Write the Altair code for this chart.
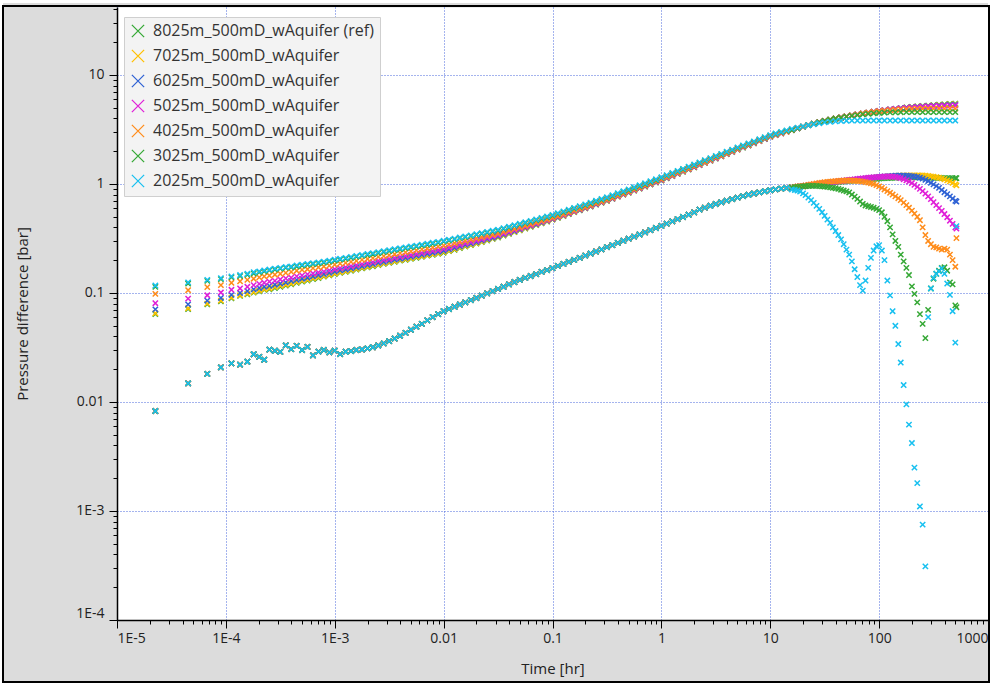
import altair as alt
import pandas as pd

FONT = "Open Sans"
XPATH = "M-1,-1L1,1M-1,1L1,-1"

SERIES = ["8025m_500mD_wAquifer (ref)", "7025m_500mD_wAquifer", "6025m_500mD_wAquifer",
          "5025m_500mD_wAquifer", "4025m_500mD_wAquifer", "3025m_500mD_wAquifer",
          "2025m_500mD_wAquifer"]
COLORS = ["#35a835", "#ffc000", "#2f62d4", "#e020d8", "#ff8c1a", "#35a835", "#18c0f0"]

# ---- time samples [hr] ----
T_EARLY = [2.25e-5, 4.5e-5, 6.75e-5, 9.0e-5, 1.125e-4, 1.35e-4, 1.575e-4, 1.8e-4, 2.025e-4, 2.25e-4]
M20 = [1.00, 1.12, 1.26, 1.41, 1.58, 1.78, 2.00, 2.24, 2.51, 2.82,
       3.16, 3.55, 3.98, 4.47, 5.01, 5.62, 6.31, 7.08, 7.94, 8.91]
T_GRID = ([m * 1e-4 for m in M20[8:]] + [m * 1e-3 for m in M20] + [m * 1e-2 for m in M20]
          + [m * 1e-1 for m in M20] + [m * 1.0 for m in M20] + [m * 10.0 for m in M20]
          + [m * 100.0 for m in M20[:15]])
T_TAIL = [15.8, 16.8, 17.8, 18.8, 20.0, 21.1, 22.4, 23.7, 25.1, 26.6,
          28.2, 29.9, 31.6, 33.5, 35.5, 37.6, 39.8, 42.2, 44.7, 47.3,
          50.1, 53.1, 56.2, 59.6, 63.1, 66.8, 70.8, 75.0, 79.4, 84.1,
          89.1, 94.4, 100, 106, 112, 119, 126, 133, 141, 150,
          158, 168, 178, 188, 200, 211, 224, 237, 251, 266,
          282, 299, 316, 335, 355, 376, 398, 422, 447, 473,
          501, 513]

# ---- pressure difference [bar], early samples ----
P_EARLY = {
    "8025m_500mD_wAquifer (ref)": [0.0640, 0.0712, 0.0785, 0.0838, 0.0893, 0.094, 0.0973, 0.1006, 0.1036, 0.1066],
    "7025m_500mD_wAquifer": [0.0651, 0.0724, 0.0798, 0.0850, 0.0906, 0.0953, 0.0986, 0.102, 0.105, 0.108],
    "6025m_500mD_wAquifer": [0.0708, 0.0787, 0.0850, 0.090, 0.096, 0.100, 0.104, 0.108, 0.111, 0.114],
    "5025m_500mD_wAquifer": [0.0805, 0.0887, 0.0953, 0.101, 0.107, 0.110, 0.114, 0.118, 0.121, 0.124],
    "4025m_500mD_wAquifer": [0.098, 0.106, 0.113, 0.118, 0.124, 0.128, 0.132, 0.135, 0.139, 0.142],
    "3025m_500mD_wAquifer": [0.114, 0.122, 0.129, 0.134, 0.139, 0.143, 0.147, 0.151, 0.155, 0.158],
    "2025m_500mD_wAquifer": [0.117, 0.125, 0.132, 0.137, 0.142, 0.146, 0.150, 0.155, 0.158, 0.161],
}

# ---- pressure difference [bar] on T_GRID ----
P_REF = [0.108, 0.111, 0.114, 0.117, 0.120, 0.124, 0.127, 0.130, 0.134, 0.137, 0.141, 0.145,
         0.149, 0.153, 0.156, 0.160, 0.164, 0.168, 0.172, 0.176, 0.180, 0.185, 0.189, 0.193, 0.198, 0.201, 0.206, 0.210, 0.215, 0.220, 0.224, 0.229,
         0.234, 0.242, 0.249, 0.258, 0.267, 0.275, 0.284, 0.293, 0.303, 0.313, 0.323, 0.336, 0.348, 0.362, 0.375, 0.390, 0.405, 0.420, 0.436, 0.452,
         0.470, 0.489, 0.508, 0.530, 0.551, 0.573, 0.597, 0.620, 0.647, 0.673, 0.700, 0.730, 0.764, 0.797, 0.831, 0.869, 0.907, 0.946, 0.989, 1.032,
         1.076, 1.128, 1.180, 1.237, 1.294, 1.357, 1.419, 1.488, 1.560, 1.632, 1.710, 1.790, 1.878, 1.965, 2.062, 2.158, 2.253, 2.359, 2.469, 2.583,
         2.704, 2.805, 2.911, 3.013, 3.126, 3.243, 3.357, 3.467, 3.573, 3.681, 3.784, 3.882, 3.981, 4.074, 4.169, 4.256, 4.345, 4.426, 4.508, 4.592,
         4.667, 4.742, 4.819, 4.887, 4.955, 5.023, 5.082, 5.140, 5.188, 5.236, 5.284, 5.333, 5.370, 5.420, 5.458]
P_7025 = [0.110, 0.113, 0.116, 0.119, 0.122, 0.126, 0.129, 0.132, 0.136, 0.139, 0.143, 0.147,
          0.151, 0.155, 0.158, 0.162, 0.166, 0.170, 0.174, 0.178, 0.182, 0.187, 0.191, 0.195, 0.200, 0.204, 0.208, 0.213, 0.217, 0.222, 0.227, 0.231,
          0.237, 0.244, 0.252, 0.261, 0.269, 0.277, 0.286, 0.295, 0.305, 0.315, 0.325, 0.338, 0.350, 0.364, 0.377, 0.392, 0.407, 0.422, 0.438, 0.454,
          0.472, 0.491, 0.511, 0.532, 0.553, 0.575, 0.598, 0.622, 0.649, 0.675, 0.701, 0.732, 0.765, 0.798, 0.833, 0.871, 0.909, 0.948, 0.991, 1.034,
          1.079, 1.131, 1.183, 1.240, 1.297, 1.360, 1.422, 1.491, 1.563, 1.635, 1.714, 1.794, 1.882, 1.970, 2.067, 2.163, 2.259, 2.364, 2.474, 2.589,
          2.710, 2.812, 2.911, 3.013, 3.126, 3.243, 3.357, 3.467, 3.573, 3.681, 3.784, 3.882, 3.981, 4.074, 4.169, 4.256, 4.345, 4.426, 4.508, 4.592,
          4.667, 4.742, 4.819, 4.887, 4.955, 5.023, 5.082, 5.129, 5.176, 5.218, 5.260, 5.297, 5.333, 5.364, 5.395]
P_6025 = [0.116, 0.119, 0.122, 0.125, 0.129, 0.132, 0.135, 0.138, 0.142, 0.146, 0.149, 0.153,
          0.157, 0.161, 0.164, 0.168, 0.172, 0.176, 0.180, 0.184, 0.189, 0.193, 0.197, 0.202, 0.206, 0.210, 0.215, 0.220, 0.224, 0.229, 0.234, 0.239,
          0.244, 0.252, 0.259, 0.268, 0.276, 0.284, 0.293, 0.302, 0.312, 0.321, 0.331, 0.344, 0.356, 0.370, 0.383, 0.397, 0.412, 0.427, 0.443, 0.459,
          0.476, 0.495, 0.515, 0.536, 0.557, 0.579, 0.602, 0.626, 0.652, 0.678, 0.705, 0.735, 0.769, 0.802, 0.837, 0.875, 0.913, 0.952, 0.996, 1.039,
          1.084, 1.137, 1.189, 1.246, 1.303, 1.366, 1.429, 1.498, 1.570, 1.643, 1.722, 1.802, 1.890, 1.978, 2.074, 2.170, 2.266, 2.371, 2.481, 2.596,
          2.716, 2.818, 2.917, 3.020, 3.126, 3.243, 3.357, 3.467, 3.573, 3.681, 3.784, 3.882, 3.981, 4.074, 4.169, 4.256, 4.345, 4.426, 4.508, 4.592,
          4.667, 4.742, 4.819, 4.887, 4.955, 5.012, 5.058, 5.105, 5.152, 5.188, 5.224, 5.254, 5.284, 5.309, 5.333]
P_5025 = [0.127, 0.129, 0.133, 0.136, 0.138, 0.142, 0.145, 0.148, 0.151, 0.154, 0.157, 0.161,
          0.165, 0.169, 0.172, 0.176, 0.180, 0.184, 0.188, 0.192, 0.197, 0.201, 0.205, 0.210, 0.214, 0.219, 0.223, 0.228, 0.233, 0.238, 0.243, 0.248,
          0.254, 0.261, 0.269, 0.277, 0.285, 0.293, 0.302, 0.310, 0.320, 0.329, 0.339, 0.351, 0.363, 0.377, 0.389, 0.404, 0.418, 0.433, 0.449, 0.464,
          0.481, 0.500, 0.519, 0.541, 0.562, 0.584, 0.607, 0.631, 0.657, 0.683, 0.710, 0.740, 0.774, 0.808, 0.843, 0.881, 0.919, 0.959, 1.003, 1.046,
          1.091, 1.144, 1.196, 1.254, 1.311, 1.374, 1.437, 1.506, 1.578, 1.651, 1.730, 1.810, 1.898, 1.985, 2.082, 2.178, 2.273, 2.378, 2.488, 2.602,
          2.723, 2.825, 2.917, 3.020, 3.126, 3.243, 3.357, 3.467, 3.573, 3.681, 3.784, 3.882, 3.981, 4.074, 4.169, 4.256, 4.345, 4.426, 4.508, 4.592,
          4.667, 4.742, 4.819, 4.875, 4.932, 4.977, 5.023, 5.070, 5.105, 5.134, 5.164, 5.188, 5.212, 5.230, 5.248]
P_4025 = [0.1445, 0.147, 0.150, 0.153, 0.156, 0.160, 0.163, 0.165, 0.169, 0.172, 0.175, 0.178,
          0.182, 0.186, 0.189, 0.193, 0.197, 0.201, 0.205, 0.209, 0.214, 0.218, 0.222, 0.227, 0.232, 0.236, 0.241, 0.246, 0.251, 0.256, 0.261, 0.266,
          0.272, 0.279, 0.286, 0.294, 0.301, 0.309, 0.317, 0.325, 0.334, 0.342, 0.351, 0.363, 0.375, 0.387, 0.400, 0.414, 0.428, 0.442, 0.457, 0.471,
          0.488, 0.506, 0.526, 0.548, 0.569, 0.591, 0.614, 0.638, 0.664, 0.689, 0.716, 0.747, 0.781, 0.815, 0.850, 0.889, 0.928, 0.968, 1.012, 1.056,
          1.102, 1.154, 1.207, 1.264, 1.322, 1.385, 1.448, 1.518, 1.590, 1.663, 1.742, 1.822, 1.910, 1.998, 2.094, 2.190, 2.286, 2.391, 2.500, 2.615,
          2.735, 2.831, 2.924, 3.020, 3.126, 3.243, 3.357, 3.467, 3.573, 3.681, 3.784, 3.882, 3.981, 4.074, 4.169, 4.256, 4.345, 4.426, 4.508, 4.581,
          4.645, 4.699, 4.753, 4.797, 4.831, 4.853, 4.875, 4.887, 4.898, 4.909, 4.909, 4.909, 4.909, 4.909, 4.909]
P_3025 = [0.161, 0.164, 0.167, 0.170, 0.172, 0.175, 0.178, 0.181, 0.184, 0.187, 0.190, 0.194,
          0.198, 0.202, 0.206, 0.210, 0.215, 0.219, 0.223, 0.227, 0.232, 0.237, 0.242, 0.247, 0.252, 0.257, 0.262, 0.267, 0.272, 0.277, 0.283, 0.288,
          0.296, 0.303, 0.310, 0.318, 0.325, 0.333, 0.341, 0.349, 0.358, 0.366, 0.374, 0.387, 0.399, 0.412, 0.425, 0.438, 0.452, 0.466, 0.482, 0.496,
          0.512, 0.532, 0.552, 0.573, 0.595, 0.618, 0.640, 0.665, 0.690, 0.717, 0.744, 0.775, 0.810, 0.844, 0.880, 0.919, 0.958, 0.999, 1.043, 1.087,
          1.139, 1.193, 1.246, 1.305, 1.363, 1.428, 1.492, 1.562, 1.635, 1.709, 1.789, 1.869, 1.957, 2.044, 2.141, 2.236, 2.331, 2.435, 2.544, 2.658,
          2.777, 2.875, 2.969, 3.066, 3.126, 3.243, 3.357, 3.467, 3.573, 3.681, 3.784, 3.882, 3.981, 4.064, 4.140, 4.217, 4.285, 4.345, 4.395, 4.436,
          4.477, 4.508, 4.529, 4.539, 4.550, 4.560, 4.560, 4.560, 4.560, 4.560, 4.560, 4.560, 4.560, 4.560, 4.560]
P_2025 = [0.164, 0.167, 0.170, 0.173, 0.175, 0.179, 0.182, 0.185, 0.188, 0.191, 0.194, 0.198,
          0.202, 0.206, 0.210, 0.214, 0.219, 0.223, 0.228, 0.232, 0.237, 0.242, 0.247, 0.252, 0.257, 0.262, 0.267, 0.272, 0.278, 0.283, 0.289, 0.294,
          0.301, 0.308, 0.315, 0.323, 0.330, 0.338, 0.346, 0.354, 0.363, 0.372, 0.380, 0.393, 0.405, 0.418, 0.431, 0.445, 0.459, 0.473, 0.489, 0.504,
          0.520, 0.540, 0.560, 0.582, 0.604, 0.627, 0.650, 0.675, 0.701, 0.728, 0.755, 0.787, 0.822, 0.857, 0.893, 0.933, 0.973, 1.014, 1.059, 1.104,
          1.151, 1.205, 1.259, 1.318, 1.377, 1.442, 1.507, 1.578, 1.652, 1.726, 1.807, 1.888, 1.977, 2.065, 2.163, 2.259, 2.355, 2.460, 2.570, 2.685,
          2.805, 2.904, 2.999, 3.097, 3.199, 3.289, 3.373, 3.459, 3.532, 3.606, 3.673, 3.715, 3.758, 3.784, 3.802, 3.811, 3.819, 3.819, 3.819, 3.819,
          3.819, 3.819, 3.819, 3.819, 3.819, 3.819, 3.819, 3.819, 3.819, 3.819, 3.819, 3.819, 3.819, 3.819, 3.819]
P_GRID = dict(zip(SERIES, [P_REF, P_7025, P_6025, P_5025, P_4025, P_3025, P_2025]))

# ---- pressure derivative [bar], common to all cases up to ~14 hr (T_EARLY + first 96 of T_GRID) ----
D_SHARED = [0.00826, 0.0148, 0.0181, 0.0208, 0.0226, 0.0220, 0.0234, 0.0274, 0.0259, 0.0244,
            0.0302, 0.0295, 0.0288, 0.0331, 0.0305, 0.0327, 0.0300, 0.0320, 0.0268, 0.0290, 0.0300, 0.0285,
            0.0296, 0.0275, 0.0289, 0.0293, 0.0300, 0.0303, 0.0310, 0.0318, 0.0330, 0.0345,
            0.0362, 0.0382, 0.0405, 0.0430, 0.0460, 0.0490, 0.0520, 0.0560, 0.0600, 0.0640,
            0.0680, 0.0713, 0.0747, 0.0783, 0.0820, 0.0860, 0.0900, 0.0945, 0.0990, 0.104,
            0.109, 0.114, 0.120, 0.126, 0.132, 0.1375, 0.143, 0.149, 0.156, 0.162,
            0.169, 0.177, 0.185, 0.193, 0.201, 0.210, 0.220, 0.230, 0.240, 0.251,
            0.263, 0.275, 0.288, 0.301, 0.315, 0.329, 0.344, 0.360, 0.377, 0.394,
            0.412, 0.432, 0.453, 0.475, 0.498, 0.522, 0.548, 0.582, 0.607, 0.631,
            0.655, 0.679, 0.703, 0.726, 0.750, 0.773, 0.796, 0.817, 0.838, 0.857,
            0.875, 0.891, 0.906, 0.918]

# ---- pressure derivative [bar] on T_TAIL, per case ----
D_TAIL = {
    "8025m_500mD_wAquifer (ref)": [
        0.93, 0.935, 0.94, 0.945, 0.95, 0.96, 0.965, 0.97, 0.98, 0.985,
        0.99, 1.0, 1.005, 1.01, 1.02, 1.025, 1.03, 1.04, 1.045, 1.05,
        1.06, 1.065, 1.07, 1.075, 1.08, 1.085, 1.09, 1.095, 1.10, 1.105,
        1.11, 1.115, 1.12, 1.125, 1.13, 1.13, 1.135, 1.14, 1.14, 1.145,
        1.145, 1.15, 1.15, 1.15, 1.15, 1.15, 1.15, 1.15, 1.15, 1.145,
        1.145, 1.14, 1.14, 1.14, 1.135, 1.135, 1.13, 1.13, 1.13, 1.13,
        1.13, 1.13],
    "7025m_500mD_wAquifer": [
        0.93, 0.935, 0.94, 0.945, 0.95, 0.96, 0.965, 0.975, 0.98, 0.99,
        0.995, 1.005, 1.01, 1.02, 1.025, 1.035, 1.04, 1.05, 1.055, 1.065,
        1.07, 1.08, 1.085, 1.09, 1.10, 1.105, 1.115, 1.12, 1.125, 1.135,
        1.14, 1.145, 1.155, 1.16, 1.165, 1.17, 1.175, 1.18, 1.185, 1.19,
        1.19, 1.195, 1.195, 1.20, 1.20, 1.20, 1.20, 1.20, 1.195, 1.19,
        1.185, 1.175, 1.165, 1.155, 1.14, 1.125, 1.105, 1.08, 1.055, 1.025,
        0.99, 0.97],
    "6025m_500mD_wAquifer": [
        0.93, 0.935, 0.94, 0.95, 0.955, 0.96, 0.97, 0.975, 0.985, 0.99,
        1.00, 1.005, 1.015, 1.02, 1.03, 1.035, 1.045, 1.05, 1.06, 1.065,
        1.075, 1.08, 1.09, 1.095, 1.10, 1.11, 1.115, 1.125, 1.13, 1.135,
        1.145, 1.15, 1.16, 1.165, 1.17, 1.175, 1.18, 1.185, 1.19, 1.19,
        1.19, 1.19, 1.19, 1.185, 1.18, 1.17, 1.16, 1.14, 1.12, 1.09,
        1.06, 1.025, 0.99, 0.955, 0.92, 0.88, 0.84, 0.805, 0.77, 0.735,
        0.70, 0.69],
    "5025m_500mD_wAquifer": [
        0.93, 0.935, 0.945, 0.95, 0.955, 0.965, 0.97, 0.98, 0.99, 0.995,
        1.005, 1.01, 1.02, 1.03, 1.035, 1.045, 1.05, 1.06, 1.065, 1.075,
        1.08, 1.09, 1.095, 1.10, 1.11, 1.12, 1.125, 1.13, 1.14, 1.145,
        1.15, 1.155, 1.16, 1.165, 1.17, 1.17, 1.17, 1.165, 1.16, 1.145,
        1.13, 1.105, 1.08, 1.05, 1.02, 0.98, 0.94, 0.90, 0.86, 0.815,
        0.77, 0.725, 0.68, 0.64, 0.60, 0.565, 0.53, 0.495, 0.46, 0.43,
        0.40, 0.39],
    "4025m_500mD_wAquifer": [
        0.93, 0.94, 0.95, 0.955, 0.96, 0.97, 0.98, 0.99, 1.00, 1.01,
        1.02, 1.03, 1.04, 1.045, 1.05, 1.055, 1.06, 1.065, 1.07, 1.07,
        1.075, 1.075, 1.075, 1.07, 1.065, 1.06, 1.05, 1.04, 1.03, 1.015,
        1.00, 0.975, 0.95, 0.92, 0.89, 0.86, 0.83, 0.80, 0.77, 0.74,
        0.71, 0.675, 0.64, 0.605, 0.57, 0.535, 0.50, 0.465, 0.40, 0.34,
        0.30, 0.28, 0.265, 0.262, 0.255, 0.25, 0.255, 0.25, 0.225, 0.20,
        0.174, 0.318],
    "3025m_500mD_wAquifer": [
        0.93, 0.935, 0.94, 0.945, 0.95, 0.955, 0.96, 0.96, 0.96, 0.96,
        0.955, 0.95, 0.945, 0.94, 0.93, 0.92, 0.91, 0.90, 0.885, 0.87,
        0.855, 0.835, 0.80, 0.765, 0.73, 0.69, 0.655, 0.635, 0.625, 0.615,
        0.605, 0.59, 0.575, 0.55, 0.50, 0.455, 0.40, 0.345, 0.30, 0.265,
        0.225, 0.195, 0.17, 0.146, 0.115, 0.098, 0.082, 0.064, 0.052, 0.0385,
        0.070, 0.11, 0.135, 0.15, 0.16, 0.17, 0.172, 0.16, 0.125, 0.12,
        0.077, 0.074],
    "2025m_500mD_wAquifer": [
        0.89, 0.88, 0.87, 0.85, 0.82, 0.79, 0.75, 0.71, 0.67, 0.63,
        0.59, 0.55, 0.51, 0.47, 0.44, 0.40, 0.37, 0.34, 0.31, 0.28,
        0.25, 0.225, 0.195, 0.165, 0.14, 0.118, 0.105, 0.13, 0.17, 0.21,
        0.245, 0.268, 0.275, 0.245, 0.20, 0.13, 0.095, 0.068, 0.050, 0.034,
        0.023, 0.0143, 0.0095, 0.0062, 0.0042, 0.0025, 0.0018, 0.0011, 0.00075, 0.00031,
        0.06, 0.11, 0.137, 0.15, 0.158, 0.168, 0.15, 0.122, 0.096, 0.068,
        0.035, 0.41],
}

# ---- assemble long table ----
rows = []
T_P = T_EARLY + T_GRID
T_D = T_EARLY + T_GRID[:96]
for name in SERIES:
    pv = P_EARLY[name] + P_GRID[name]
    assert len(pv) == len(T_P), (name, len(pv), len(T_P))
    assert len(D_SHARED) == len(T_D), (len(D_SHARED), len(T_D))
    assert len(D_TAIL[name]) == len(T_TAIL), (name, len(D_TAIL[name]))
    rows += [(name, t, v) for t, v in zip(T_P, pv)]
    rows += [(name, t, v) for t, v in zip(T_D, D_SHARED)]
    rows += [(name, t, v) for t, v in zip(T_TAIL, D_TAIL[name])]
df = pd.DataFrame(rows, columns=["series", "t", "v"])

# ---- axes ----
X_TICKS = [m * 10.0 ** e for e in range(-5, 3) for m in range(1, 10)] + [1000.0]
Y_TICKS = [v for v in [m * 10.0 ** e for e in range(-4, 2) for m in range(1, 10)] if v <= 42]
DEC = "abs(log(datum.value)/LN10 - round(log(datum.value)/LN10)) < 0.001"
LAB = ("(" + DEC + ") ? (datum.value < 0.005 ? '1E' + round(log(datum.value)/LN10) "
       ": format(datum.value, '~g')) : ''")
GRIDC = "#4a68dc"

common_axis = dict(
    labelExpr=LAB, labelOverlap=False, labelFlush=True,
    tickSize={"condition": {"test": DEC, "value": 8}, "value": 4},
    tickColor="#000000", tickWidth=1, domainColor="#000000", domainWidth=1.5,
    grid=True, gridColor=GRIDC, gridDash=[1, 2], gridWidth=1,
    gridOpacity={"condition": {"test": DEC, "value": 1}, "value": 0},
    labelFont=FONT, labelFontSize=14, labelColor="#222222",
    titleFont=FONT, titleFontSize=15, titleFontWeight="normal", titleColor="#222222",
    titleBaseline="middle",
)
x_axis = alt.Axis(values=X_TICKS, labelPadding=3, titleY=48, **common_axis)
y_axis = alt.Axis(values=Y_TICKS, labelPadding=5, titleX=-95, **common_axis)

points = alt.Chart(df).mark_point(
    shape=XPATH, filled=False, size=28, strokeWidth=1.5, opacity=1
).encode(
    x=alt.X("t:Q", title="Time [hr]",
            scale=alt.Scale(type="log", domain=[1e-5, 1000], nice=False), axis=x_axis),
    y=alt.Y("v:Q", title="Pressure difference [bar]",
            scale=alt.Scale(type="log", domain=[1e-4, 42], nice=False), axis=y_axis),
    color=alt.Color("series:N", scale=alt.Scale(domain=SERIES, range=COLORS),
                    legend=alt.Legend(title=None, orient="none", legendX=7, legendY=10,
                                      fillColor="#f3f3f3", strokeColor="#cfcfcf", padding=6,
                                      labelFont=FONT, labelFontSize=16, labelColor="#333333",
                                      symbolType=XPATH, symbolSize=150, symbolStrokeWidth=1.3,
                                      rowPadding=7, labelOffset=7, labelLimit=400)),
)

one = pd.DataFrame({"k": [0]})
outer_white = alt.Chart(one).mark_rect(fill="transparent", stroke="#ffffff", strokeWidth=6).encode(
    x=alt.value(-117), x2=alt.value(874), y=alt.value(-7), y2=alt.value(677))
frame = alt.Chart(one).mark_rect(fill="transparent", stroke="#000000", strokeWidth=2).encode(
    x=alt.value(-114), x2=alt.value(872), y=alt.value(-1), y2=alt.value(675))

chart = alt.layer(points, outer_white, frame).properties(
    width=871, height=613,
    padding={"left": 117, "top": 7, "right": 3, "bottom": 64},
    autosize=alt.AutoSizeParams(type="none"),
).configure(background="#dcdcdc").configure_view(fill="#ffffff", stroke="transparent")

chart.save("out.html", embed_options={"renderer": "svg", "actions": False})
